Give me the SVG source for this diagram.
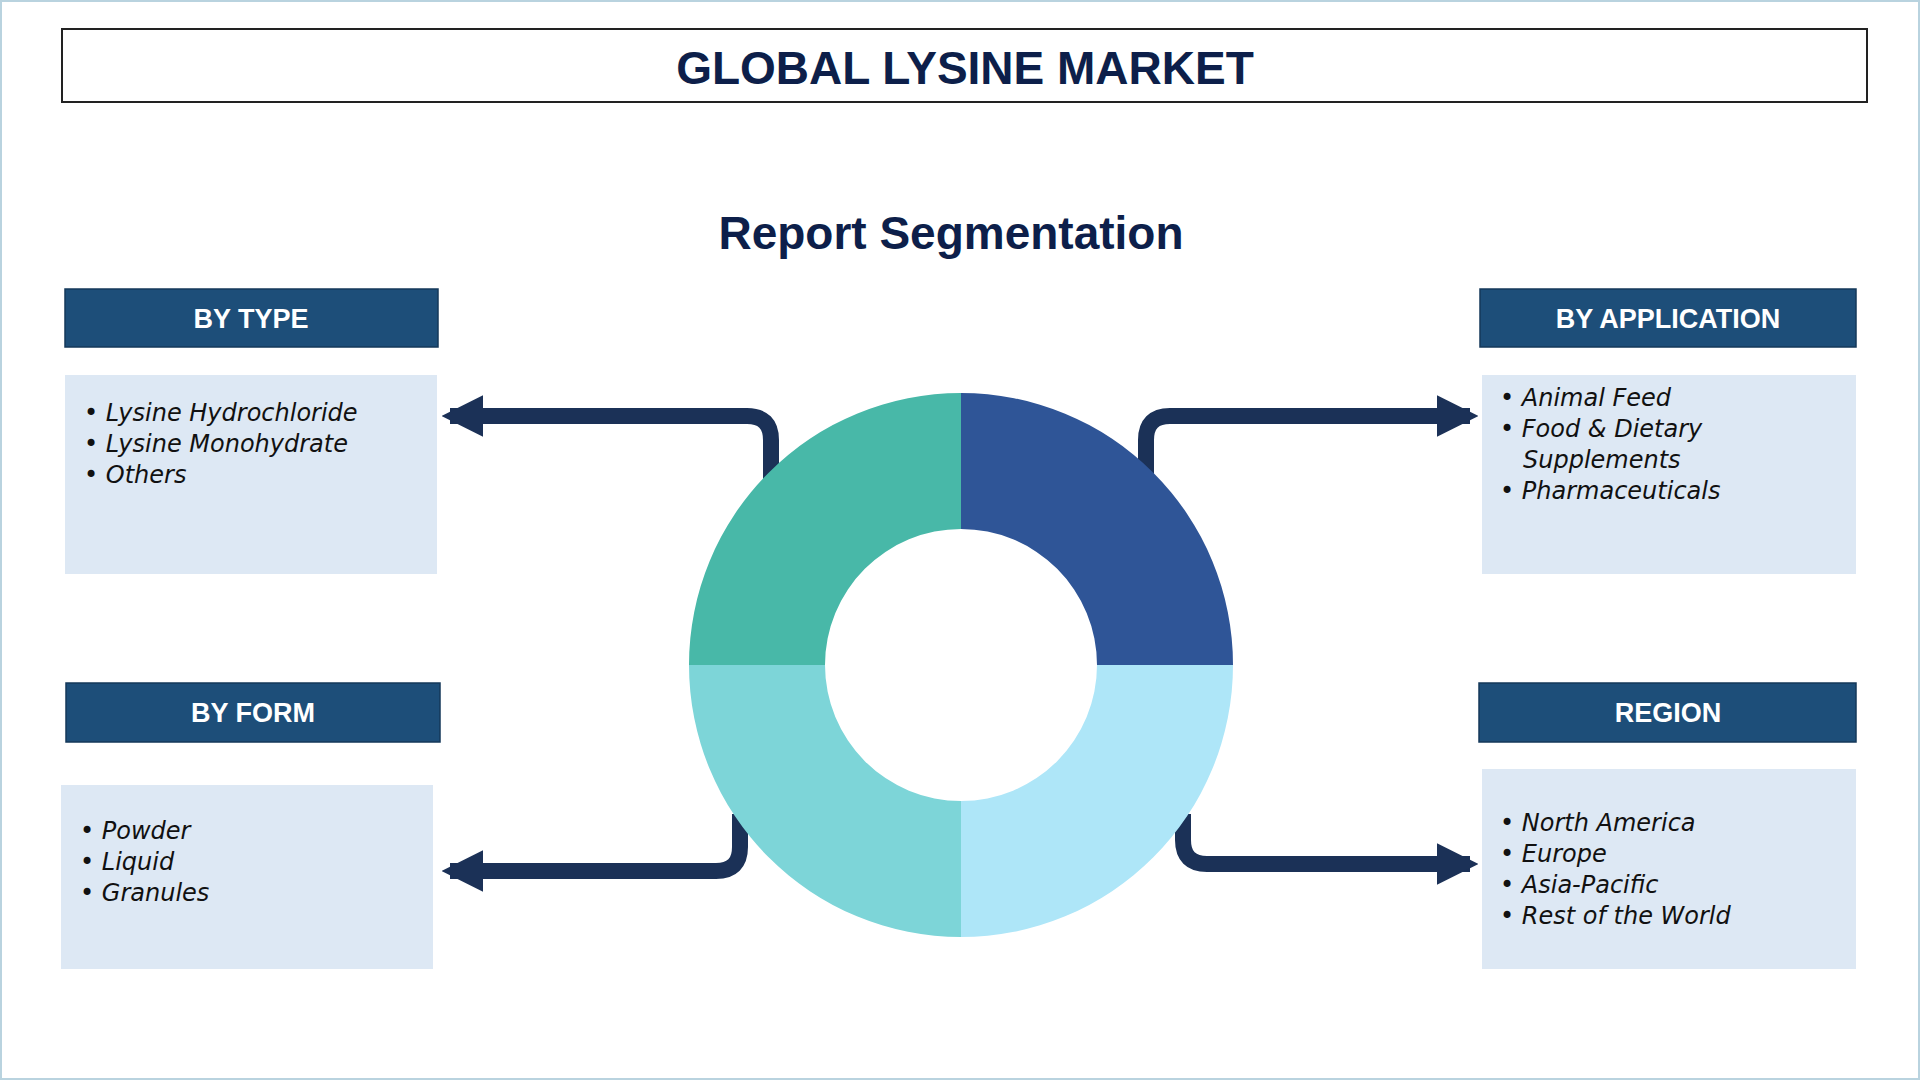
<svg xmlns="http://www.w3.org/2000/svg" width="1920" height="1080" viewBox="0 0 1920 1080">
<style>
.hdr{fill:#1d4e79;stroke:#15385a;stroke-width:1.5}
.hdrt{font-family:"Liberation Sans",Arial,sans-serif;font-weight:bold;font-size:27px;fill:#fff;text-anchor:middle}
.box{fill:#dde8f4}
.it{font-family:"DejaVu Sans","Liberation Sans",sans-serif;font-style:italic;font-size:24px;fill:#111}
.con{fill:none;stroke:#1b3157;stroke-width:16;stroke-linejoin:round}
</style>
<defs>
<marker id="ah" viewBox="0 0 10 10" refX="8" refY="5" markerWidth="2.6" markerHeight="3" orient="auto" markerUnits="strokeWidth">
<path d="M0,0 L10,5 L0,10 z" fill="#1b3157"/>
</marker>
</defs>
<rect x="1" y="1" width="1918" height="1078" fill="#fff" stroke="#b9d3df" stroke-width="2"/>
<rect x="62" y="29" width="1805" height="73" fill="#fff" stroke="#222" stroke-width="2"/>
<text x="965" y="84" font-family="Liberation Sans,Arial,sans-serif" font-weight="bold" font-size="46" fill="#0d1f4a" text-anchor="middle">GLOBAL LYSINE MARKET</text>
<text x="951" y="249" font-family="Liberation Sans,Arial,sans-serif" font-weight="bold" font-size="46" fill="#0d1f4a" text-anchor="middle">Report Segmentation</text>
<g id="connectors">
<path class="con" d="M771,480 V440 Q771,416 747,416 H450" marker-end="url(#ah)"/>
<path class="con" d="M1146,480 V440 Q1146,416 1170,416 H1470" marker-end="url(#ah)"/>
<path class="con" d="M740,814 V847 Q740,871 716,871 H450" marker-end="url(#ah)"/>
<path class="con" d="M1183,814 V840 Q1183,864 1207,864 H1470" marker-end="url(#ah)"/>
</g>
<g id="donut">
<path d="M961,393 A272,272 0 0 1 1233,665 H1097 A136,136 0 0 0 961,529 Z" fill="#2f5597"/>
<path d="M1233,665 A272,272 0 0 1 961,937 V801 A136,136 0 0 0 1097,665 Z" fill="#aee6f8"/>
<path d="M961,937 A272,272 0 0 1 689,665 H825 A136,136 0 0 0 961,801 Z" fill="#7dd5d8"/>
<path d="M689,665 A272,272 0 0 1 961,393 V529 A136,136 0 0 0 825,665 Z" fill="#48b8a8"/>
</g>
<g id="type">
<rect class="hdr" x="65" y="289" width="373" height="58"/>
<text class="hdrt" x="251" y="328">BY TYPE</text>
<rect class="box" x="65" y="375" width="372" height="199"/>
<text class="it" x="84" y="421">•  Lysine Hydrochloride</text>
<text class="it" x="84" y="452">•  Lysine Monohydrate</text>
<text class="it" x="84" y="483">•  Others</text>
</g>
<g id="application">
<rect class="hdr" x="1480" y="289" width="376" height="58"/>
<text class="hdrt" x="1668" y="328">BY APPLICATION</text>
<rect class="box" x="1482" y="375" width="374" height="199"/>
<text class="it" x="1500" y="406">•  Animal Feed</text>
<text class="it" x="1500" y="437">•  Food &amp; Dietary</text>
<text class="it" x="1523" y="468">Supplements</text>
<text class="it" x="1500" y="499">•  Pharmaceuticals</text>
</g>
<g id="form">
<rect class="hdr" x="66" y="683" width="374" height="59"/>
<text class="hdrt" x="253" y="722">BY FORM</text>
<rect class="box" x="61" y="785" width="372" height="184"/>
<text class="it" x="80" y="839">•  Powder</text>
<text class="it" x="80" y="870">•  Liquid</text>
<text class="it" x="80" y="901">•  Granules</text>
</g>
<g id="region">
<rect class="hdr" x="1479" y="683" width="377" height="59"/>
<text class="hdrt" x="1668" y="722">REGION</text>
<rect class="box" x="1482" y="769" width="374" height="200"/>
<text class="it" x="1500" y="831">•  North America</text>
<text class="it" x="1500" y="862">•  Europe</text>
<text class="it" x="1500" y="893">•  Asia-Pacific</text>
<text class="it" x="1500" y="924">•  Rest of the World</text>
</g>
</svg>
